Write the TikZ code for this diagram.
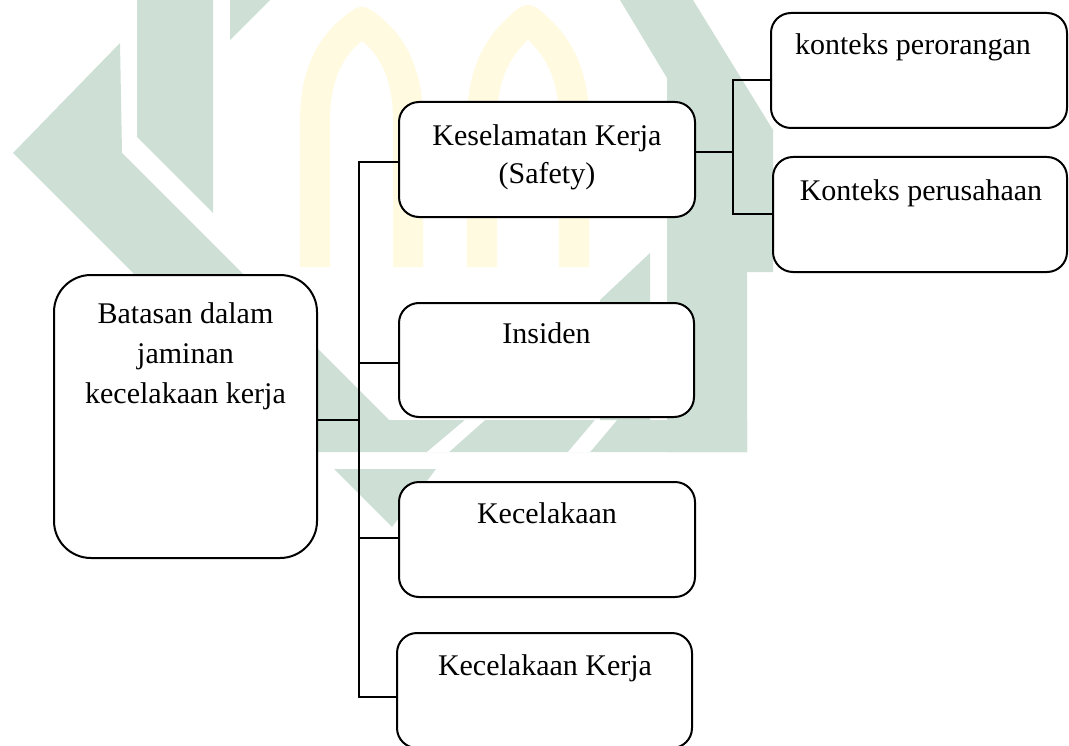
\documentclass[tikz,border=0pt]{standalone}
\usepackage{fontspec}
\setmainfont{Liberation Serif}
\definecolor{wmgreen}{RGB}{206,224,213}
\definecolor{wmyellow}{RGB}{255,250,224}
\newcommand{\lblstack}[1]{\begin{tabular}[t]{@{}c@{}}#1\end{tabular}}
\tikzset{
  box/.style={draw=black, line width=1.5pt, fill=white, rounded corners=15pt, inner sep=0pt},
  lbl/.style={anchor=base, inner sep=0pt, font=\fontsize{22.5}{28.5}\selectfont},
  conn/.style={draw=black, line width=1.4pt, line cap=rect},
}
\begin{document}
\begin{tikzpicture}[x=0.75pt,y=-0.75pt]
\useasboundingbox (0,0) rectangle (1069,745);
\fill[white] (0,0) rectangle (1069,745);
% ---- faint watermark ----
\draw[wmyellow, line width=22.5pt, line join=round]
  (315,267) -- (315,120) .. controls (315,65) and (338,38) .. (362,22)
  .. controls (386,38) and (408,65) .. (408,120) -- (408,267);
\draw[wmyellow, line width=22.5pt, line join=round]
  (482,267) -- (482,120) .. controls (482,65) and (505,38) .. (528,20)
  .. controls (551,38) and (574,65) .. (574,120) -- (574,267);
\fill[wmgreen] (137,0) -- (213,0) -- (213,213) -- (137,137) -- cycle;
\fill[wmgreen] (230,0) -- (270,0) -- (230,40) -- cycle;
\fill[wmgreen] (120,43) -- (13,153) -- (312,452) -- (747,452) -- (747,420)
  -- (389,420) -- (122,153) -- cycle;
\fill[white] (427,452) -- (449,452) -- (485,420) -- (465,420) -- cycle;
\fill[white] (568,452) -- (590,452) -- (617,420) -- (595,420) -- cycle;
\fill[wmgreen] (334,469) -- (436,469) -- (392,527) -- cycle;
\fill[wmgreen] (620,0) -- (693,0) -- (773,130) -- (773,272) -- (747,272)
  -- (747,452) -- (667,452) -- (667,78) -- cycle;
\fill[wmgreen] (600,300) -- (650,253) -- (650,420) -- (600,420) -- cycle;
% ---- boxes ----
\node[box, rounded corners=27.75pt, minimum width=197.25pt, minimum height=212.25pt] (main) at (185.5,416.5) {};
\node[box, minimum width=222pt, minimum height=86.25pt] (kes) at (547,159.5) {};
\node[box, minimum width=221.25pt, minimum height=85.5pt] (ins) at (546.5,360) {};
\node[box, minimum width=222pt, minimum height=86.25pt] (kec) at (547,539.5) {};
\node[box, minimum width=221.25pt, minimum height=86.25pt] (kk) at (544.5,690.5) {};
\node[box, minimum width=222pt, minimum height=86.25pt] (kp) at (919,70.5) {};
\node[box, minimum width=220.5pt, minimum height=86.25pt] (kper) at (920,214.5) {};
% ---- labels ----
\node[lbl, font=\fontsize{22.5}{30}\selectfont] (main-t) at (185.5,323) {\lblstack{Batasan dalam\\jaminan\\kecelakaan kerja}};
\node[lbl] (kes-t) at (547,146) {\lblstack{Keselamatan Kerja\\(Safety)}};
\node[lbl] (ins-t) at (546.5,343) {Insiden};
\node[lbl] (kec-t) at (547,523) {Kecelakaan};
\node[lbl] (kk-t) at (545,675) {Kecelakaan Kerja};
\node[lbl] (kp-t) at (913,55) {konteks perorangan};
\node[lbl] (kper-t) at (921,200) {Konteks perusahaan};
% ---- connectors ----
\coordinate (busT) at (359,162);
\coordinate (busB) at (359,697);
\coordinate (jm) at (359,420);
\coordinate (ji) at (359,363);
\coordinate (jc) at (359,538);
\draw[conn] (busT) -- (busB);
\draw[conn] (busT) -- (busT -| kes.west);
\draw[conn] (ji) -- (ji -| ins.west);
\draw[conn] (jm -| main.east) -- (jm);
\draw[conn] (jc) -- (jc -| kec.west);
\draw[conn] (busB) -- (busB -| kk.west);
\coordinate (rj) at (733,152);
\coordinate (rT) at (733,80);
\coordinate (rB) at (733,214);
\draw[conn] (rj -| kes.east) -- (rj);
\draw[conn] (rT) -- (rB);
\draw[conn] (rT) -- (rT -| kp.west);
\draw[conn] (rB) -- (rB -| kper.west);
\end{tikzpicture}
\end{document}
